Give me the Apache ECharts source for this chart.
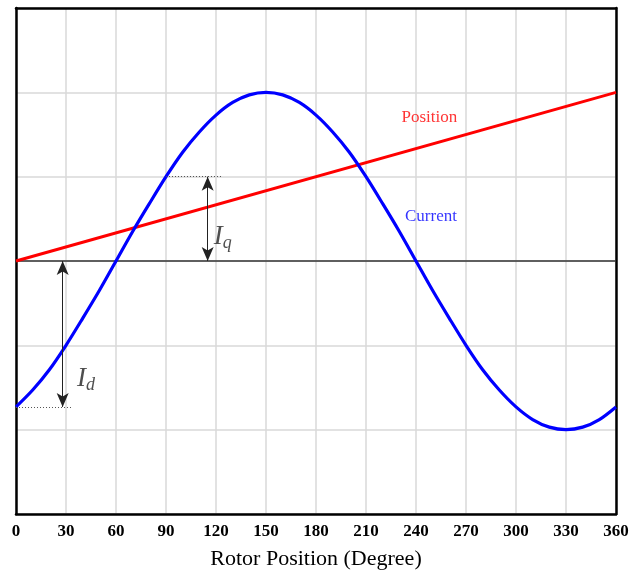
<!DOCTYPE html>
<html><head><meta charset="utf-8">
<script src="https://cdn.jsdelivr.net/npm/echarts@6/dist/echarts.min.js"></script>
<style>html,body{margin:0;padding:0;background:#fff}#c{width:641px;height:573px}</style>
</head><body><div id="c"></div>
<script>
var xTicks = [0,30,60,90,120,150,180,210,240,270,300,330,360];
var angles = [0,10,20,30,40,50,60,70,80,90,100,110,120,130,140,150,160,170,180,190,200,210,220,230,240,250,260,270,280,290,300,310,320,330,340,350,360];
var current = [-1.73,-1.53,-1.29,-1.0,-0.68,-0.35,0,0.35,0.68,1.0,1.29,1.53,1.73,1.88,1.97,2.0,1.97,1.88,1.73,1.53,1.29,1.0,0.68,0.35,0,-0.35,-0.68,-1.0,-1.29,-1.53,-1.73,-1.88,-1.97,-2.0,-1.97,-1.88,-1.73];
var positionX = [0,360];
var positionY = [0,2];
// annotations: Iq arrow and dotted guide, Id arrow and dotted guide
var iqArrow = [[115,0],[115,1]];
var iqGuide = [[90,1],[124,1]];
var idArrow = [[28,0],[28,-1.73]];
var idGuide = [[0,-1.73],[33,-1.73]];
var textLabels = [
  {name:'Position', x:248, y:1.70, color:'#ff0000'},
  {name:'Current', x:249, y:0.53, color:'#0000ff'}
];
var subLabels = [
  {sub:'q', x:124, y:0.28},
  {sub:'d', x:42, y:-1.4}
];

var chart = echarts.init(document.getElementById('c'));
var serif = '"Liberation Serif","Times New Roman",serif';
var black = {show:true,onZero:false,lineStyle:{color:'#000',width:2.5}};
chart.setOption({
  animation:false,
  grid:{left:16,right:25,top:8,bottom:59,outerBoundsMode:'none',containLabel:false},
  xAxis:[{type:'value',min:0,max:360,interval:30,position:'bottom',
    axisLine:black,
    axisTick:{show:false},
    axisLabel:{color:'#000',fontFamily:serif,fontWeight:'bold',fontSize:17,margin:9},
    splitLine:{show:true,lineStyle:{color:'#d9d9d9',width:1.5}},
    name:'Rotor Position (Degree)',nameLocation:'middle',nameGap:34,
    nameTextStyle:{color:'#000',fontFamily:serif,fontSize:22}
  },{type:'value',min:0,max:360,position:'top',axisLine:black,axisTick:{show:false},axisLabel:{show:false},splitLine:{show:false}}],
  yAxis:[{type:'value',min:-3,max:3,interval:1,position:'left',
    axisLine:black,axisTick:{show:false},axisLabel:{show:false},
    splitLine:{show:true,lineStyle:{color:'#d9d9d9',width:1.5}}
  },{type:'value',min:-3,max:3,position:'right',axisLine:black,axisTick:{show:false},axisLabel:{show:false},splitLine:{show:false}}],
  series:[
    {type:'line',data:[[0,0],[360,0]],symbol:'none',lineStyle:{color:'#333',width:1.3},silent:true,z:1},
    {type:'line',name:'Position',data:positionX.map(function(x,i){return [x,positionY[i]];}),symbol:'none',
      lineStyle:{color:'#ff0000',width:3},z:3},
    {type:'line',name:'Current',data:angles.map(function(a,i){return [a,current[i]];}),smooth:0.3,symbol:'none',
      lineStyle:{color:'#0000ff',width:3.2},z:4,
      markLine:{silent:true,animation:false,label:{show:false},
        data:[
          [{coord:iqArrow[0],symbol:'arrow',lineStyle:{color:'#222',width:1,type:'solid'}},{coord:iqArrow[1],symbol:'arrow'}],
          [{coord:idArrow[0],symbol:'arrow',lineStyle:{color:'#222',width:1,type:'solid'}},{coord:idArrow[1],symbol:'arrow'}],
          [{coord:iqGuide[0],symbol:'none',lineStyle:{color:'#555',width:1,type:[1,2]}},{coord:iqGuide[1],symbol:'none'}],
          [{coord:idGuide[0],symbol:'none',lineStyle:{color:'#555',width:1,type:[1,2]}},{coord:idGuide[1],symbol:'none'}]
        ],
        symbolSize:[9,14]
      }
    },
    {type:'scatter',symbolSize:0,silent:true,z:5,
      data:textLabels.map(function(t){return {value:[t.x,t.y],label:{show:true,formatter:t.name,color:t.color,fontFamily:serif,fontSize:17,position:'inside'}};})
    },
    {type:'scatter',symbolSize:0,silent:true,z:5,
      data:subLabels.map(function(t){return {value:[t.x,t.y],label:{show:true,position:'inside',
        formatter:'{i|I}{s|'+t.sub+'}',
        rich:{i:{fontFamily:serif,fontStyle:'italic',fontSize:27,color:'#222'},
              s:{fontFamily:serif,fontStyle:'italic',fontSize:18,color:'#222',verticalAlign:'bottom',padding:[12,0,0,0]}}}};})
    }
  ]
});
</script></body></html>
